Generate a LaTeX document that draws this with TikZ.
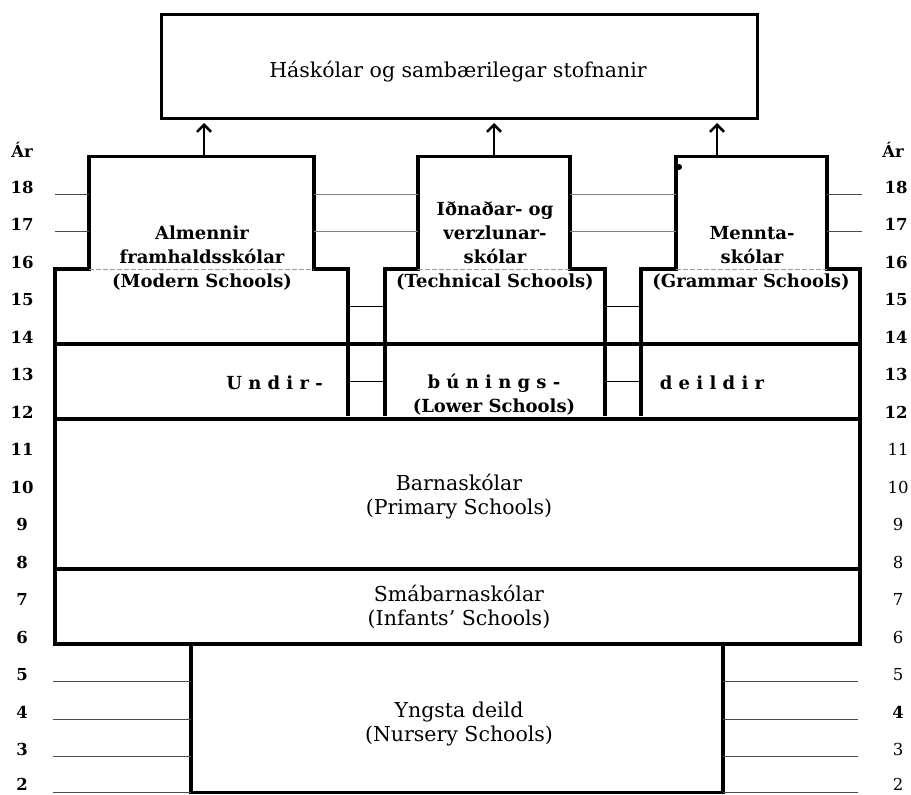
\documentclass[tikz,border=0pt]{standalone}
\usepackage{fontspec}
\setmainfont{DejaVu Serif}
\usetikzlibrary{arrows.meta}
\begin{document}
\begin{tikzpicture}[x=1pt,y=-1pt,
  box/.style={line width=3.2pt, line join=miter, line cap=rect},
  tickline/.style={line width=1pt, black!70},
  gapline/.style={line width=0.8pt, black!50},
  midtick/.style={line width=1.2pt, black},
  faint/.style={line width=0.7pt, black!40, dash pattern=on 5pt off 2pt},
  lab/.style={font=\fontsize{16.5}{18}\selectfont\bfseries, inner sep=0pt},
  rlab/.style={font=\fontsize{16.5}{18}\selectfont, inner sep=0pt},
  txt/.style={font=\fontsize{20.5}{24}\selectfont, align=center, inner sep=0pt},
  btxt/.style={font=\fontsize{18}{24}\selectfont\bfseries, align=center, inner sep=0pt},
  arr/.style={line width=2.6pt, -{Straight Barb[length=7pt,width=14pt,line width=2.6pt]}, shorten >=3pt}
]
\useasboundingbox (0,0) rectangle (911,795);

% top box
\node[draw, line width=3pt, minimum width=596pt, minimum height=104pt, inner sep=0pt, anchor=north west] (uni) at (160,13) {};
\node[txt] (unit) at (458,72) {Háskólar og sambærilegar stofnanir};

% school shapes
\draw[box] (55,644) -- (55,269) -- (89,269) -- (89,156.5) -- (314,156.5) -- (314,269) -- (348,269) -- (348,414);
\draw[box] (385,414) -- (385,269) -- (418,269) -- (418,156.5) -- (570,156.5) -- (570,269) -- (605,269) -- (605,414);
\draw[box] (641,414) -- (641,269) -- (676,269) -- (676,156.5) -- (827,156.5) -- (827,269) -- (860,269) -- (860,644);
\fill (679,167) circle (3pt);

% faint lower edges of upper boxes
\draw[faint] (89,269) -- (314,269);
\draw[faint] (418,269) -- (570,269);
\draw[faint] (676,269) -- (827,269);

% dividers
\draw[box] (55,344) -- (860,344);
\draw[box] (55,419) -- (860,419);
\draw[box] (55,569) -- (860,569);
\draw[line width=4pt] (55,644) -- (860,644);

% nursery box
\draw[box] (191,644) -- (191,792.5) -- (723,792.5) -- (723,644);

% arrows
\coordinate (a1) at (204,156.5);
\coordinate (a2) at (494,156.5);
\coordinate (a3) at (717,156.5);
\draw[arr] (a1) -- (a1 |- uni.south);
\draw[arr] (a2) -- (a2 |- uni.south);
\draw[arr] (a3) -- (a3 |- uni.south);

% ticks upper
\foreach \y in {194,231.5}{
  \draw[tickline] (55,\y) -- (89,\y);
  \draw[gapline] (314,\y) -- (418,\y);
  \draw[gapline] (570,\y) -- (676,\y);
  \draw[tickline] (827,\y) -- (862,\y);
}
\foreach \y in {306.5,381.5}{
  \draw[midtick] (348,\y) -- (385,\y);
  \draw[midtick] (605,\y) -- (641,\y);
}
% ticks lower
\foreach \y in {681.5,719,756.5,792.5}{
  \draw[tickline] (53,\y) -- (191,\y);
  \draw[tickline] (723,\y) -- (858,\y);
}

% year labels
\node[lab] (lAr) at (22,150) {Ár};
\node[lab] (rAr) at (893,150) {Ár};
\foreach \a/\y in {18/187,17/224.5,16/262,15/299.5,14/337,13/374.5,12/412}{
  \node[lab] at (22,\y) {\a};
  \node[lab] at (896,\y) {\a};
}
\foreach \a/\y in {11/449.5,10/487,9/524.5,8/562,7/599.5,6/637,5/674.5,4/712,3/749.5,2/784}{
  \node[lab] at (22,\y) {\a};
}
\foreach \a/\y in {11/449.5,10/487,9/524.5,8/562,7/599.5,6/637,5/674.5,3/749.5,2/784}{
  \node[rlab] at (898,\y) {\a};
}
\node[lab] at (898,712) {4};

% school texts
\node[btxt] (alm) at (202,245) {Almennir\\framhaldsskólar};
\node[btxt] (almE) at (202,282) {(Modern Schools)};
\node[btxt] (idn) at (495,233) {Iðnaðar- og\\verzlunar-\\skólar};
\node[btxt] (idnE) at (495,282) {(Technical Schools)};
\node[btxt] (men) at (752,245) {Mennta-\\skólar};
\node[btxt] (menE) at (751,282) {(Grammar Schools)};

\node[btxt, anchor=east] (und) at (323,383) {U n d i r -};
\node[btxt] (bun) at (494,383) {b ú n i n g s -};
\node[btxt] (low) at (494,407) {(Lower Schools)};
\node[btxt] (dei) at (712,383) {d e i l d i r};

\node[txt] (bar) at (459,497) {Barnaskólar\\(Primary Schools)};
\node[txt] (sma) at (459,607) {Smábarnaskólar\\(Infants' Schools)};
\node[txt] (yng) at (459,724) {Yngsta deild\\(Nursery Schools)};
\end{tikzpicture}
\end{document}
